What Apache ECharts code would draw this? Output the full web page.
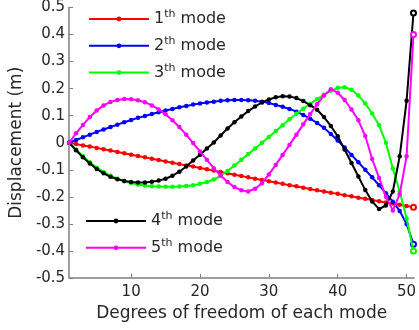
<!DOCTYPE html>
<html>
<head>
<meta charset="utf-8">
<script src="https://cdn.jsdelivr.net/npm/echarts@6/dist/echarts.min.js"></script>
<style>
  html, body { margin: 0; padding: 0; background: #ffffff; }
  #chart { width: 419px; height: 330px; }
</style>
</head>
<body>
<div id="chart"></div>
<script>
// Mode shapes: displacement (m) of each degree of freedom, DOF 1..51
const modeNames = ['1th mode', '2th mode', '3th mode', '4th mode', '5th mode'];
const modeColors = ['#ff0000', '#0000ff', '#00ff00', '#000000', '#ff00ff'];

const mode1 = [
  0, -0.005, -0.010, -0.014, -0.019, -0.024, -0.029, -0.034, -0.039, -0.044,
  -0.049, -0.054, -0.059, -0.064, -0.069, -0.074, -0.079, -0.084, -0.088, -0.093,
  -0.098, -0.103, -0.108, -0.113, -0.118, -0.123, -0.128, -0.133, -0.138, -0.142,
  -0.147, -0.152, -0.157, -0.161, -0.166, -0.171, -0.176, -0.180, -0.185, -0.189,
  -0.194, -0.198, -0.203, -0.207, -0.212, -0.216, -0.221, -0.225, -0.229, -0.234,
  -0.238
];
const mode2 = [
  0, 0.010, 0.020, 0.030, 0.040, 0.049, 0.058, 0.067, 0.076, 0.084,
  0.092, 0.099, 0.106, 0.113, 0.119, 0.125, 0.131, 0.136, 0.141, 0.145,
  0.149, 0.152, 0.155, 0.157, 0.158, 0.158, 0.157, 0.155, 0.152, 0.147,
  0.140, 0.133, 0.125, 0.115, 0.103, 0.089, 0.073, 0.055, 0.032, 0.008,
  -0.018, -0.045, -0.072, -0.100, -0.128, -0.157, -0.187, -0.218, -0.252, -0.300,
  -0.375
];
const mode3 = [
  0, -0.025, -0.050, -0.072, -0.092, -0.108, -0.122, -0.133, -0.142, -0.149,
  -0.154, -0.158, -0.161, -0.162, -0.163, -0.163, -0.162, -0.160, -0.157, -0.152,
  -0.145, -0.136, -0.122, -0.104, -0.084, -0.063, -0.042, -0.021, 0.000, 0.021,
  0.043, 0.065, 0.087, 0.107, 0.126, 0.144, 0.161, 0.177, 0.192, 0.203,
  0.205, 0.196, 0.175, 0.145, 0.108, 0.065, 0.000, -0.095, -0.180, -0.280,
  -0.400
];
const mode4 = [
  0, -0.028, -0.054, -0.077, -0.097, -0.113, -0.126, -0.135, -0.141, -0.145,
  -0.147, -0.147, -0.144, -0.140, -0.133, -0.122, -0.107, -0.088, -0.066, -0.044,
  -0.021, 0.001, 0.027, 0.053, 0.076, 0.097, 0.117, 0.134, 0.149, 0.160,
  0.168, 0.172, 0.171, 0.165, 0.154, 0.139, 0.122, 0.095, 0.062, 0.024,
  -0.025, -0.075, -0.125, -0.175, -0.217, -0.245, -0.232, -0.180, -0.050, 0.155,
  0.480
];
const mode5 = [
  0, 0.035, 0.066, 0.095, 0.119, 0.138, 0.151, 0.158, 0.162, 0.161,
  0.157, 0.150, 0.138, 0.123, 0.105, 0.083, 0.058, 0.030, -0.001, -0.032,
  -0.063, -0.094, -0.121, -0.145, -0.164, -0.176, -0.180, -0.170, -0.150, -0.117,
  -0.082, -0.045, -0.008, 0.030, 0.068, 0.106, 0.142, 0.175, 0.198, 0.185,
  0.158, 0.123, 0.083, 0.025, -0.060, -0.130, -0.200, -0.250, -0.190, -0.050,
  0.400
];
const modes = [mode1, mode2, mode3, mode4, mode5];

const xTicks = [10, 20, 30, 40, 50];
const xRange = [1, 51.1];
const yRange = [-0.5, 0.5];
const yStep = 0.1;

const FONT = 'DejaVu Sans';
const TEXT = '#262626';
const AXIS = '#7f7f7f';

function toPoints(values) {
  return values.map((v, i) => {
    const p = [i + 1, v];
    if (i === values.length - 1) {
      return { value: p, symbol: 'emptyCircle', symbolSize: 5 };
    }
    return p;
  });
}

const series = modes.map((vals, k) => ({
  name: modeNames[k],
  type: 'line',
  data: toPoints(vals),
  symbol: 'circle',
  symbolSize: 4.5,
  showSymbol: true,
  color: modeColors[k],
  lineStyle: { width: 2, color: modeColors[k] },
  itemStyle: { color: modeColors[k] },
  emphasis: { disabled: true },
  z: 2 + k
}));

const legendText = {
  fontFamily: FONT,
  fontSize: 16,
  color: TEXT,
  rich: {
    n: { fontFamily: FONT, fontSize: 16, color: TEXT, lineHeight: 20 },
    s: { fontFamily: FONT, fontSize: 11, color: TEXT, verticalAlign: 'top', lineHeight: 20 }
  }
};
const legendFormatter = name => name.replace(/^(\d+)th (.*)$/, '{n|$1}{s|th}{n| $2}');

const chart = echarts.init(document.getElementById('chart'), null, { renderer: 'canvas' });
chart.setOption({
  animation: false,
  backgroundColor: '#ffffff',
  grid: { left: 63, right: 2, top: 6, bottom: 52, containLabel: false },
  legend: [
    {
      data: modeNames.slice(0, 3),
      orient: 'vertical',
      left: 88, top: 9,
      padding: 0,
      itemWidth: 60, itemHeight: 6, itemGap: 8.8,
      textStyle: legendText,
      formatter: legendFormatter,
      selectedMode: false
    },
    {
      data: modeNames.slice(3),
      orient: 'vertical',
      left: 85, top: 211,
      padding: 0,
      itemWidth: 60, itemHeight: 6, itemGap: 8.8,
      textStyle: legendText,
      formatter: legendFormatter,
      selectedMode: false
    }
  ],
  xAxis: {
    type: 'value',
    min: xRange[0], max: xRange[1],
    name: 'Degrees of freedom of each mode',
    nameLocation: 'middle',
    nameGap: 25,
    nameTextStyle: { fontFamily: FONT, fontSize: 17, color: TEXT },
    axisLine: { show: true, onZero: false, lineStyle: { color: AXIS, width: 1.5 } },
    axisTick: { show: true, inside: true, length: 4, customValues: xTicks, lineStyle: { color: AXIS } },
    axisLabel: { customValues: xTicks, fontFamily: FONT, fontSize: 15, color: TEXT, margin: 7 },
    splitLine: { show: false }
  },
  yAxis: {
    type: 'value',
    min: yRange[0], max: yRange[1], interval: yStep,
    name: 'Displacement (m)',
    nameLocation: 'middle',
    nameGap: 40,
    nameTextStyle: { fontFamily: FONT, fontSize: 17, color: TEXT },
    axisLine: { show: true, onZero: false, lineStyle: { color: AXIS, width: 1.5 } },
    axisTick: { show: true, inside: true, length: 4, lineStyle: { color: AXIS } },
    axisLabel: {
      fontFamily: FONT, fontSize: 15, color: TEXT, margin: 4,
      formatter: v => String(Math.round(v * 10) / 10)
    },
    splitLine: { show: false }
  },
  series: series
});
</script>
</body>
</html>
